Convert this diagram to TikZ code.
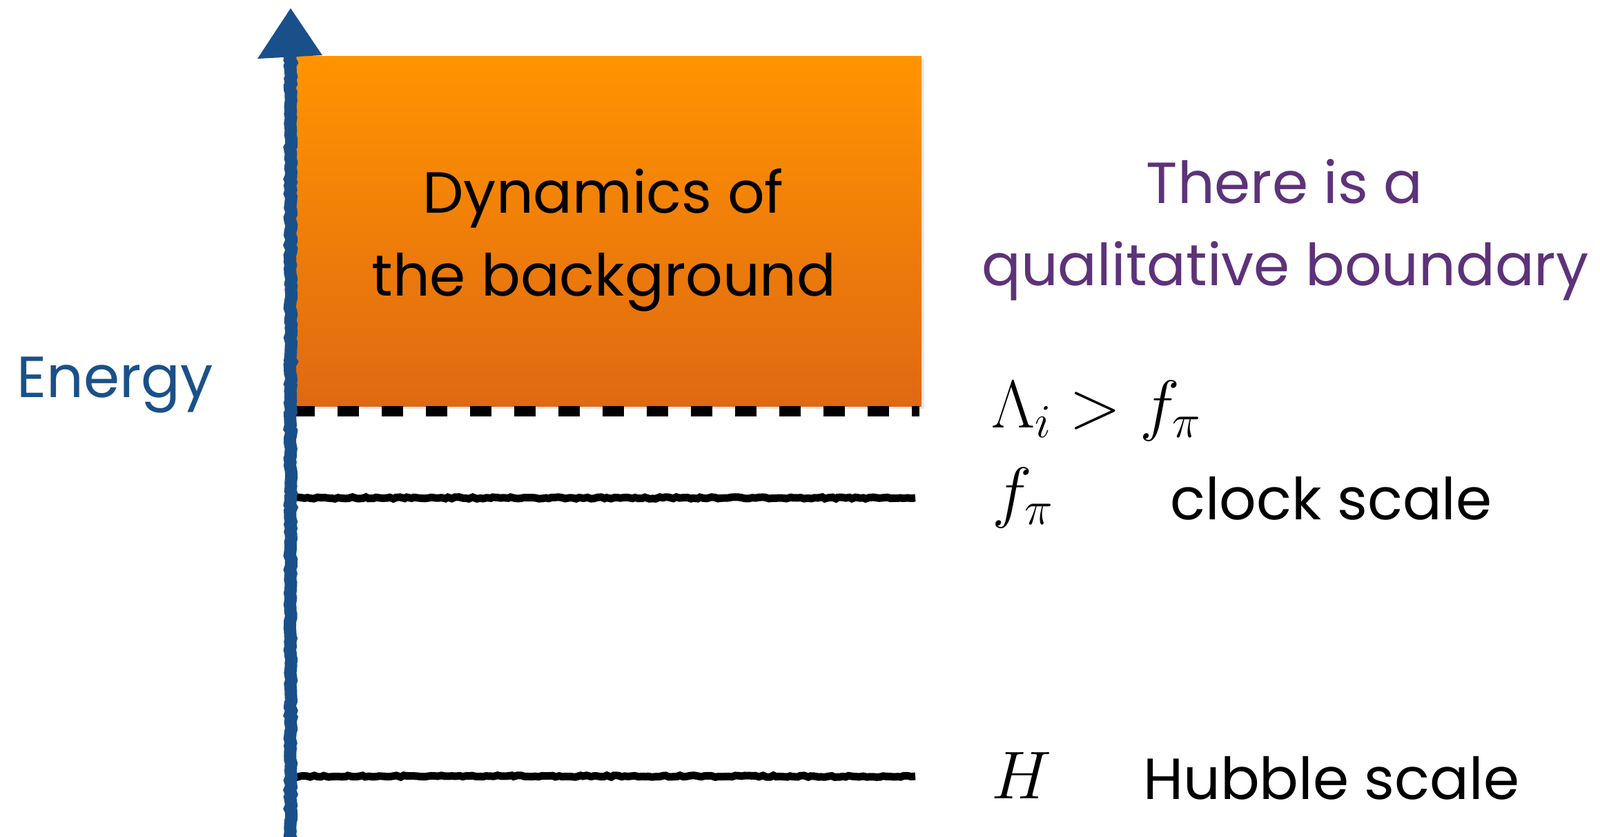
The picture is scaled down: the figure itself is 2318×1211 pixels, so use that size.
\RequirePackage{fix-cm}
\documentclass[tikz,border=0pt]{standalone}
\usepackage[no-math]{fontspec}
\setmainfont{Poppins}
\usetikzlibrary{shadows,decorations.pathmorphing}
\definecolor{axisblue}{RGB}{26,80,137}
\definecolor{txtpurple}{RGB}{93,50,121}
\definecolor{orangetop}{RGB}{255,148,0}
\definecolor{orangebot}{RGB}{223,105,18}
\tikzset{
  chalk/.style={decorate, decoration={random steps, segment length=5pt, amplitude=1.3pt}},
  axisline/.style={draw=axisblue, line width=18pt, chalk},
  scaleline/.style={draw=black, line width=11pt, chalk},
  boundline/.style={draw=black, line width=15pt, dash pattern=on 31pt off 33pt},
  bgbox/.style={inner sep=0pt, anchor=north west, top color=orangetop, bottom color=orangebot,
    draw=none, drop shadow={opacity=0.18, shadow xshift=4pt, shadow yshift=-4pt}},
  hand/.style={inner sep=0pt, font=\fontsize{84}{100}\selectfont},
  mathlbl/.style={inner sep=0pt, anchor=base west, font=\fontsize{98}{112}\selectfont},
}
\begin{document}
\begin{tikzpicture}[x=1pt,y=-1pt]
\useasboundingbox (0,0) rectangle (2318,1211);
% background box
\node[bgbox, minimum width=914pt, minimum height=507pt] (bg) at (421,81) {};
\node[hand, anchor=base] (dyn1) at (874,308) {Dynamics of};
\node[hand, anchor=base] (dyn2) at (875,428) {the background};
% boundary and scale lines
\coordinate (d0) at (425,595);
\coordinate (d1) at (1332,595);
\draw[boundline] (d0) -- (d1);
\coordinate (f0) at (425,721);
\coordinate (f1) at (1326,721);
\draw[scaleline] (f0) -- (f1);
\coordinate (h0) at (425,1124);
\coordinate (h1) at (1326,1124);
\draw[scaleline] (h0) -- (h1);
% energy axis
\coordinate (axbot) at (421,1230);
\coordinate (axtop) at (421,80);
\coordinate (tipA) at (421,12);
\coordinate (tipL) at (373,85);
\coordinate (tipR) at (467,80);
\draw[axisline] (axbot) -- (axtop);
\fill[axisblue] (tipA) -- (tipL) -- (tipR) -- cycle;
\node[hand, anchor=base west, text=axisblue] (energy) at (24,575) {Energy};
% right labels
\node[hand, anchor=base, text=txtpurple] (q1) at (1861,294) {There is a};
\node[hand, anchor=base, text=txtpurple] (q2) at (1862,413) {qualitative boundary};
\node[mathlbl] (lam) at (1436,619) {$\Lambda_i > f_\pi$};
\node[mathlbl] (fpi) at (1437,745) {$f_\pi$};
\node[hand, anchor=base west] (clock) at (1695,752) {clock scale};
\node[mathlbl] (hh) at (1436,1156) {$H$};
\node[hand, anchor=base west] (hubble) at (1656,1157) {Hubble scale};
\end{tikzpicture}
\end{document}
